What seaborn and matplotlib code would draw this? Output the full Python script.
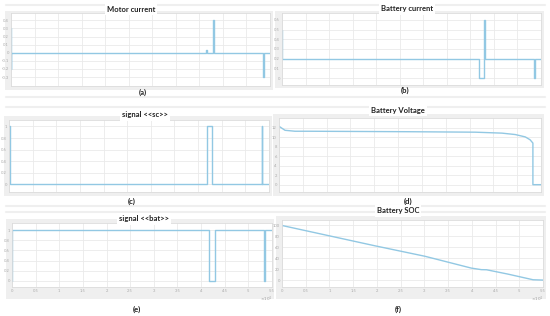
import matplotlib
matplotlib.use("Agg")
import matplotlib.pyplot as plt
from matplotlib.patches import Rectangle
from matplotlib.lines import Line2D
import seaborn as sns

# --- data (time in s) ---
motor_t = [0, 0, 0, 41500, 41500, 41600, 41600, 43000, 43000, 43100, 43100,
           53600, 53600, 53700, 53700, 55000]
motor_i = [0.3, -0.2, 0, 0, 0.04, 0.04, 0, 0, 0.4, 0.4, 0,
           0, -0.3, -0.3, 0, 0]

batt_t = [0, 0, 41900, 41900, 43000, 43000, 43150, 43150,
          53600, 53600, 53700, 53700, 55000]
batt_i = [0.5, 0.2, 0.2, 0, 0, 0.6, 0.6, 0.2,
          0.2, 0, 0, 0.2, 0.2]

sc_t = [0, 150, 150, 41800, 41800, 43000, 43000, 53500, 53500, 53600, 53600, 55000]
sc_sig = [1, 1, 0, 0, 1, 1, 0, 0, 1, 1, 0, 0]

volt_t = [0, 1260, 3360, 6200, 27200, 41200, 46800, 49600, 51700, 52700, 53300, 53300, 55000]
volt_v = [12.35, 11.5, 11.3, 11.3, 11.2, 11.1, 10.9, 10.6, 10.1, 9.5, 8.8, 0, 0]

bat_t = [0, 0, 41700, 41700, 42900, 42900, 53400, 53400, 53500, 53500, 55000]
bat_sig = [0, 1, 1, 0, 0, 1, 1, 0, 0, 1, 1]

soc_t = [0, 19600, 30100, 39900, 42000, 43100, 47600, 52900, 55000]
soc_v = [100, 63, 44, 22.4, 19.6, 19.4, 11.5, 1.2, 0.6]

x_ticks = [0, 5000, 10000, 15000, 20000, 25000, 30000, 35000, 40000, 45000, 50000, 55000]
x_labels = ["0", "0.5", "1", "1.5", "2", "2.5", "3", "3.5", "4", "4.5", "5", "5.5"]

titles = ["Motor current", "Battery current", "signal <<sc>>",
          "Battery Voltage", "signal <<bat>>", "Battery SOC"]
captions = ["(a)", "(b)", "(c)", "(d)", "(e)", "(f)"]

series = [(motor_t, motor_i), (batt_t, batt_i), (sc_t, sc_sig),
          (volt_t, volt_v), (bat_t, bat_sig), (soc_t, soc_v)]
yticks = [[-0.3, -0.2, -0.1, 0, 0.1, 0.2, 0.3, 0.4],
          [0, 0.1, 0.2, 0.3, 0.4, 0.5, 0.6],
          [0, 0.2, 0.4, 0.6, 0.8, 1],
          [0, 2, 4, 6, 8, 10, 12],
          [0, 0.2, 0.4, 0.6, 0.8, 1],
          [0, 20, 40, 60, 80, 100]]
ylims = [(-0.41, 0.49), (-0.07, 0.67), (-0.13, 1.11),
         (-1.55, 14.1), (-0.12, 1.14), (-12, 110)]

# --- layout (pixels in a 550x316 picture) ---
W, H = 550, 316
boxes = [(11, 13, 270, 86), (282, 13, 541, 85),
         (9, 120, 269, 192), (279, 118, 541, 192),
         (12, 223, 272, 287), (282, 220, 543, 287)]
frames = [(5, 11, 273, 90), (275, 11, 544, 88),
          (4, 116, 272, 196), (273, 114, 544, 196),
          (6, 219, 274, 299), (276, 216, 546, 299)]
title_pos = [(131, 9), (407, 9), (145, 115), (398, 110), (144, 219), (398, 211)]
cap_pos = [(143, 92), (405, 90), (132, 201), (408, 201), (137, 309), (398, 309)]

sns.set_style("white")
plt.rcParams["font.family"] = ["Lato", "DejaVu Sans"]

fig = plt.figure(figsize=(5.5, 3.16), dpi=100)
fig.patch.set_facecolor("white")

# light decorative separators
for y in [5, 97, 107, 206, 212]:
    fig.add_artist(Line2D([0.01, 0.99], [1 - y / H, 1 - y / H],
                          color="#efefef", lw=1.5, zorder=0))

for k in range(6):
    fx0, fy0, fx1, fy1 = frames[k]
    fig.add_artist(Rectangle((fx0 / W, 1 - fy1 / H), (fx1 - fx0) / W, (fy1 - fy0) / H,
                             transform=fig.transFigure, facecolor="#efefef",
                             edgecolor="none", zorder=0))
    x0, y0, x1, y1 = boxes[k]
    ax = fig.add_axes([x0 / W, 1 - y1 / H, (x1 - x0) / W, (y1 - y0) / H])
    ax.set_facecolor("white")
    t, v = series[k]
    sns.lineplot(x=t, y=v, ax=ax, estimator=None, sort=False,
                 color="#92c8e3", lw=1.0)
    ax.set_xlim(0, 55000)
    ax.set_ylim(*ylims[k])
    ax.set_xticks(x_ticks)
    ax.set_yticks(yticks[k])
    ax.set_yticklabels([f"{y:g}" for y in yticks[k]])
    if k >= 4:
        ax.set_xticklabels(x_labels)
        ax.text(1.0, -0.12, r"$\times10^4$", transform=ax.transAxes,
                ha="right", va="top", fontsize=3, color="#999999")
    else:
        ax.set_xticklabels([])
    ax.tick_params(labelsize=3, colors="#aaaaaa", length=0, pad=1.5)
    ax.grid(True, color="#eaeaea", lw=0.6)
    for s in ax.spines.values():
        s.set_color("#dcdcdc")
        s.set_linewidth(0.6)
    ax.set_xlabel("")
    ax.set_ylabel("")

    tx, ty = title_pos[k]
    fig.text(tx / W, 1 - ty / H, titles[k], ha="center", va="center",
             fontsize=5.5, fontweight="bold", color="#222222",
             bbox=dict(facecolor="white", edgecolor="none", pad=1.5))
    cx, cy = cap_pos[k]
    fig.text(cx / W, 1 - cy / H, captions[k], ha="center", va="center",
             fontsize=5.5, fontweight="bold", color="#222222")

fig.savefig("out.png", dpi=100)
